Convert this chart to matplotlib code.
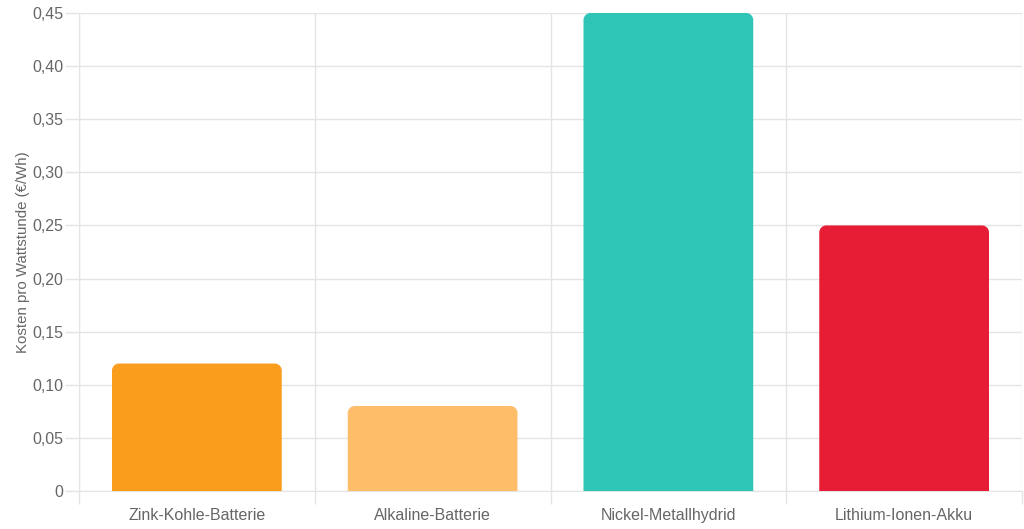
import matplotlib
matplotlib.use("Agg")
import matplotlib.pyplot as plt
from matplotlib.path import Path
from matplotlib.patches import PathPatch
from matplotlib.ticker import FuncFormatter, MultipleLocator

categories = ["Zink-Kohle-Batterie", "Alkaline-Batterie", "Nickel-Metallhydrid", "Lithium-Ionen-Akku"]
values = [0.12, 0.08, 0.45, 0.25]
colors = ["#FA9C1C", "#FDBD69", "#2EC4B6", "#E71D36"]
ylabel = "Kosten pro Wattstunde (€/Wh)"

plt.rcParams['font.family'] = ['Liberation Sans', 'DejaVu Sans']
W, H = 1024, 529
fig = plt.figure(figsize=(W/100, H/100), dpi=100)
ax = fig.add_axes([79/W, (H-491)/H, (1022-79)/W, (491-13)/H])

n = len(categories)
ax.set_xlim(-0.5, n-0.5)
ax.set_ylim(0, 0.45)

bw = 0.72
rpx = 7.0
ax_w_px = (1022-79)
ax_h_px = (491-13)
rx = rpx * n / ax_w_px
ry = rpx * 0.45 / ax_h_px
k = 0.5523

for i, (v, c) in enumerate(zip(values, colors)):
    x0, x1 = i - bw/2, i + bw/2
    verts = [(x0, 0), (x0, v-ry),
             (x0, v-ry+k*ry), (x0+rx-k*rx, v), (x0+rx, v),
             (x1-rx, v),
             (x1-rx+k*rx, v), (x1, v-ry+k*ry), (x1, v-ry),
             (x1, 0), (x0, 0)]
    codes = [Path.MOVETO, Path.LINETO,
             Path.CURVE4, Path.CURVE4, Path.CURVE4,
             Path.LINETO,
             Path.CURVE4, Path.CURVE4, Path.CURVE4,
             Path.LINETO, Path.CLOSEPOLY]
    ax.add_patch(PathPatch(Path(verts, codes), facecolor=c, edgecolor='none', zorder=3, clip_on=False))

ax.yaxis.set_major_locator(MultipleLocator(0.05))
ax.yaxis.set_major_formatter(FuncFormatter(lambda v, p: "0" if abs(v) < 1e-9 else f"{v:.2f}".replace('.', ',')))
ax.set_xticks(range(n))
ax.set_xticklabels(categories)
ax.set_xticks([i + 0.5 for i in range(-1, n)], minor=True)

grid_c = "#E4E4E4"
ax.grid(True, axis='y', color=grid_c, linewidth=1, zorder=0)
ax.grid(True, axis='x', which='minor', color=grid_c, linewidth=1, zorder=0)
ax.tick_params(axis='x', which='major', length=0, labelsize=11.5, labelcolor='#666666', pad=12)
ax.tick_params(axis='x', which='minor', length=9, color=grid_c, width=1)
ax.tick_params(axis='y', length=10, color=grid_c, width=1, labelsize=11.5, labelcolor='#666666', pad=1.5)
for s in ['top', 'right']:
    ax.spines[s].set_visible(False)
ax.spines['left'].set_color(grid_c)
ax.spines['bottom'].set_color(grid_c)
ax.set_ylabel(ylabel, fontsize=10.8, color='#666666')
ax.yaxis.set_label_coords(-(79-30)/ax_w_px, 0.5)

fig.savefig("out.png", dpi=100)
